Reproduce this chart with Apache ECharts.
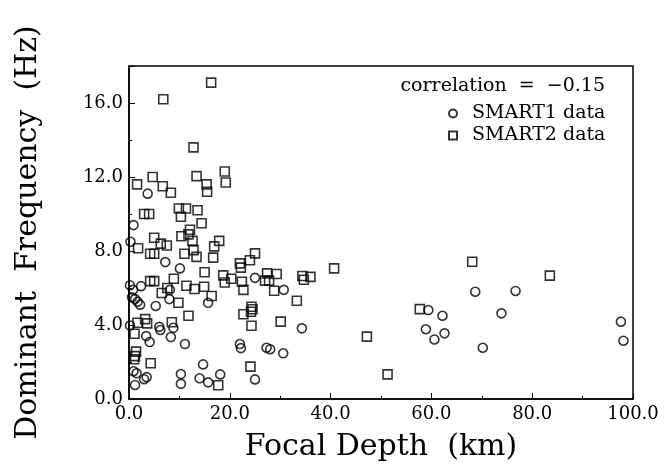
<!DOCTYPE html>
<html>
<head>
<meta charset="utf-8">
<script src="https://cdn.jsdelivr.net/npm/echarts@6/dist/echarts.min.js"></script>
<style>
	html, body { margin: 0; padding: 0; background: #fff; }
	#chart { width: 664px; height: 473px; }
</style>
</head>
<body>
<div id="chart"></div>
<script>
// SMART1 events (circles): focal depth (km), dominant frequency (Hz)
const smart1Depth = [0.9, 0.3, 3.7, 7.2, 10.1, 0.2, 2.4, 0.8, 0.6, 1.2, 1.7, 2.2, 5.3, 8.0, 15.7, 25.0, 30.7, 8.1,
	0.2, 3.4, 4.1, 6.0, 6.2, 8.8, 8.3, 11.1, 22.0, 22.2, 27.3, 28.0, 30.6, 34.3, 14.7, 0.9, 1.5, 3.0, 3.5,
	10.3, 10.3, 14.0, 15.7, 18.1, 1.2, 25.0, 59.4, 58.9, 60.6, 62.2, 62.6, 68.7, 76.7, 73.9, 70.2, 97.6, 98.1]
const smart1Freq = [9.4, 8.5, 11.1, 7.4, 7.06, 6.15, 6.1, 5.9, 5.5, 5.4, 5.26, 5.1, 5.03, 5.4, 5.2, 6.55, 5.9, 5.9,
	3.97, 3.4, 3.08, 3.9, 3.73, 3.85, 3.35, 2.97, 2.97, 2.75, 2.77, 2.69, 2.47, 3.82, 1.87, 1.5, 1.39, 1.07, 1.18,
	1.35, 0.82, 1.12, 0.9, 1.33, 0.76, 1.06, 4.81, 3.77, 3.22, 4.5, 3.55, 5.8, 5.84, 4.63, 2.77, 4.18, 3.15]

// SMART2 events (squares)
const smart2Depth = [16.3, 6.8, 12.8, 4.7, 13.4, 19.0, 19.2, 1.6, 6.7, 8.3, 15.4, 15.5, 3.0, 4.0, 9.9, 11.3, 10.3,
	13.6, 14.4, 12.1, 11.8, 10.4, 12.6, 5.0, 6.3, 7.5, 1.8, 17.9, 16.9, 4.2, 5.0, 11.0, 12.8, 13.4, 16.7, 15.0,
	18.7, 20.3, 19.0, 4.2, 5.0, 8.9, 7.6, 11.4, 13.0, 14.9, 6.5, 9.8, 16.4, 11.8, 25.0, 24.0, 22.0, 22.2, 22.4,
	22.7, 27.4, 29.3, 27.0, 27.8, 28.8, 34.4, 34.7, 36.0, 33.3, 40.7, 22.7, 24.3, 24.5, 24.2, 24.3, 30.1, 1.7,
	3.2, 3.6, 1.1, 8.5, 1.4, 1.2, 1.0, 4.3, 24.1, 17.7, 47.2, 51.3, 57.7, 68.1, 83.5]
const smart2Freq = [17.1, 16.2, 13.6, 12.0, 12.05, 12.3, 11.7, 11.6, 11.5, 11.15, 11.6, 11.2, 10.0, 10.0, 10.3, 10.3, 9.85,
	10.2, 9.5, 9.15, 8.9, 8.8, 8.55, 8.72, 8.4, 8.3, 8.15, 8.55, 8.25, 7.85, 7.85, 7.85, 8.05, 7.68, 7.64, 6.85,
	6.68, 6.5, 6.3, 6.37, 6.37, 6.5, 6.0, 6.12, 5.95, 6.07, 5.73, 5.2, 5.57, 4.5, 7.87, 7.5, 7.33, 7.1, 6.34,
	5.9, 6.79, 6.76, 6.4, 6.4, 5.85, 6.65, 6.45, 6.6, 5.31, 7.06, 4.58, 4.99, 4.85, 4.72, 3.96, 4.18, 4.12,
	4.32, 4.09, 3.53, 4.15, 2.56, 2.32, 2.15, 1.93, 1.75, 0.74, 3.37, 1.33, 4.86, 7.42, 6.67]

const xTicks = [0, 20, 40, 60, 80, 100]
const yTicks = [0, 4, 8, 12, 16]
const correlation = -0.15

const pairs = (xs, ys) => xs.map((x, i) => [x, ys[i]])

const serif = '"DejaVu Serif", serif'

const node = document.getElementById('chart')
const myChart = echarts.init(node)

const markerStyle = {
	color: 'rgba(0,0,0,0)',
	borderColor: '#000',
	borderWidth: 1.6
}

const option = {
	animation: false,
	backgroundColor: '#fff',
	grid: {
		left: 129,
		right: 31,
		top: 66,
		bottom: 74,
		show: true,
		borderColor: '#000',
		borderWidth: 1.5
	},
	graphic: [
		{
			type: 'text',
			right: 59,
			top: 77,
			style: {
				text: 'correlation  =  \u2212' + Math.abs(correlation).toFixed(2),
				font: '19px ' + serif,
				fill: '#000'
			}
		}
	],
	legend: {
		orient: 'vertical',
		left: 443,
		top: 99,
		itemGap: 3,
		itemWidth: 8,
		itemHeight: 8,
		textStyle: {
			fontFamily: serif,
			fontSize: 19,
			color: '#000',
			padding: [0, 0, 0, 10]
		},
		data: ['SMART1 data', 'SMART2 data']
	},
	xAxis: {
		type: 'value',
		min: 0,
		max: 100,
		interval: 20,
		name: 'Focal Depth  (km)',
		nameLocation: 'middle',
		nameGap: 33,
		nameTextStyle: {
			fontFamily: serif,
			fontSize: 30,
			color: '#000'
		},
		axisLine: { onZero: false, lineStyle: { color: '#000', width: 1.5 } },
		axisTick: { inside: true, length: 6, lineStyle: { color: '#000' } },
		minorTick: { show: true, splitNumber: 2, length: 3, lineStyle: { color: '#000' } },
		axisLabel: {
			fontFamily: serif,
			fontSize: 18,
			color: '#000',
			margin: 6,
			formatter: v => (xTicks.includes(v) ? v.toFixed(1) : '')
		},
		splitLine: { show: false }
	},
	yAxis: {
		type: 'value',
		min: 0,
		max: 18,
		interval: 4,
		name: 'Dominant  Frequency  (Hz)',
		nameLocation: 'middle',
		nameGap: 86,
		nameTextStyle: {
			fontFamily: serif,
			fontSize: 30,
			color: '#000'
		},
		axisLine: { onZero: false, lineStyle: { color: '#000', width: 1.5 } },
		axisTick: { inside: true, length: 6, lineStyle: { color: '#000' } },
		minorTick: { show: true, splitNumber: 2, length: 3, lineStyle: { color: '#000' } },
		axisLabel: {
			fontFamily: serif,
			fontSize: 18,
			color: '#000',
			margin: 6,
			formatter: v => (yTicks.includes(v) ? v.toFixed(1) : '')
		},
		splitLine: { show: false }
	},
	series: [
		{
			name: 'SMART1 data',
			type: 'scatter',
			symbol: 'circle',
			symbolSize: 9,
			itemStyle: markerStyle,
			data: pairs(smart1Depth, smart1Freq)
		},
		{
			name: 'SMART2 data',
			type: 'scatter',
			symbol: 'rect',
			symbolSize: 9,
			itemStyle: markerStyle,
			data: pairs(smart2Depth, smart2Freq)
		}
	]
}

myChart.setOption(option)
</script>
</body>
</html>
